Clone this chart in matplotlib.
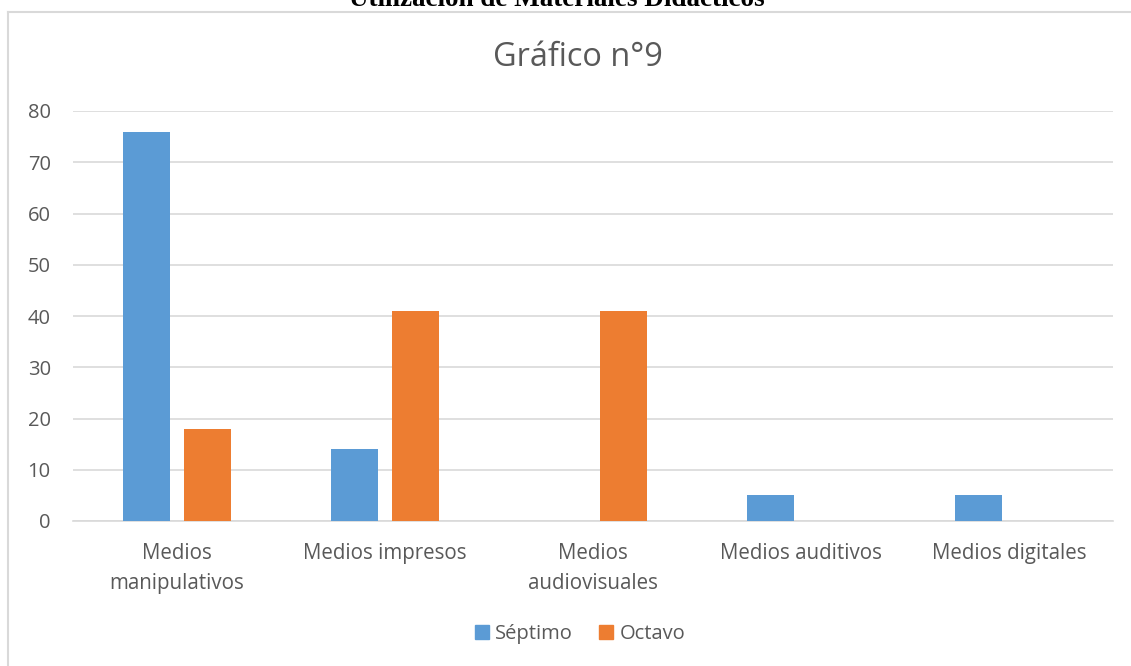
import matplotlib
matplotlib.use("Agg")
import matplotlib.pyplot as plt
import numpy as np
from matplotlib.patches import Rectangle
from matplotlib.lines import Line2D

categories = ["Medios\nmanipulativos", "Medios impresos", "Medios\naudiovisuales",
              "Medios auditivos", "Medios digitales"]
septimo = [76, 14, 0, 5, 5]
octavo = [18, 41, 41, 0, 0]
series_names = ["Séptimo", "Octavo"]
yticks = [0, 10, 20, 30, 40, 50, 60, 70, 80]

W, H = 1131, 666
fig = plt.figure(figsize=(W/100, H/100), dpi=100)
FONT = "Open Sans"
GRAY = "#595959"
BLUE = "#5B9BD5"
ORANGE = "#ED7D31"

# border lines of chart area
fig.add_artist(Line2D([8/W, 1], [1-12/H, 1-12/H], transform=fig.transFigure, color="#d9d9d9", lw=1.5))
fig.add_artist(Line2D([8/W, 8/W], [0, 1-12/H], transform=fig.transFigure, color="#d9d9d9", lw=1.5))

# cut-off document title
fig.text(557/W, 1-6/H, "Utilización de Materiales Didácticos", ha="center", va="baseline",
         fontsize=19.5, fontweight="bold", family="Liberation Serif", color="black")

ax = fig.add_axes([73/W, 1-521/H, (1113-73)/W, (521-111)/H])
x = np.arange(len(categories))
bw = 0.226
off = 0.1445
ax.bar(x - off, septimo, bw, color=BLUE, label=series_names[0], zorder=3)
ax.bar(x + off, octavo, bw, color=ORANGE, label=series_names[1], zorder=3)
ax.set_xlim(-0.5, len(categories) - 0.5)
ax.set_ylim(0, 80)
ax.set_yticks(yticks)
ax.set_yticklabels([str(t) for t in yticks], family=FONT, fontsize=14.5, color=GRAY)
ax.set_xticks(x)
ax.set_xticklabels(categories, family=FONT, fontsize=14.8, color=GRAY, linespacing=1.55)
ax.tick_params(length=0, pad=16, axis="y")
ax.tick_params(length=0, pad=16, axis="x")
ax.grid(axis="y", color="#d9d9d9", lw=1.2, zorder=0)
for s in ["top", "right", "left"]:
    ax.spines[s].set_visible(False)
ax.spines["bottom"].set_color("#d9d9d9")
ax.spines["bottom"].set_linewidth(1.2)
ax.set_facecolor("none")

fig.text(578/W, 1-58/H, "Gráfico n°9", ha="center", va="center", family=FONT,
         fontsize=23.4, color=GRAY)

handles = [Rectangle((0, 0), 1, 1, color=BLUE), Rectangle((0, 0), 1, 1, color=ORANGE)]
leg = fig.legend(handles, series_names, loc="center", bbox_to_anchor=(580/W, 1-634/H),
                 ncol=2, frameon=False, prop={"family": FONT, "size": 14.5},
                 handlelength=0.7, handleheight=0.7, handletextpad=0.3, columnspacing=1.3)
for t in leg.get_texts():
    t.set_color(GRAY)

fig.savefig("out.png", dpi=100)
